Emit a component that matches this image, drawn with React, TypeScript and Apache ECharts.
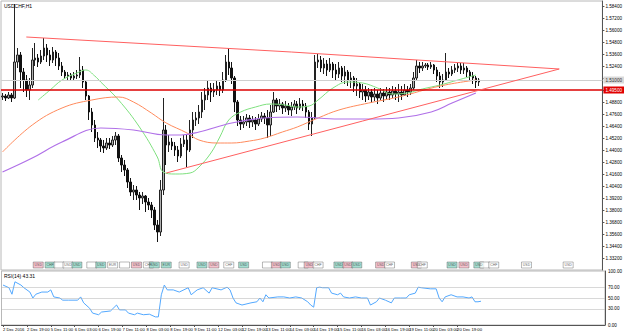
import React, { useEffect, useRef } from "react";
import * as echarts from "echarts";

const symbolTitle = "USDCHF,H1";
const rsiTitle = "RSI(14) 43.31";

const firstOpen = 1.493;
const closes = [
  1.494, 1.492, 1.495, 1.492, 1.528, 1.535, 1.518, 1.51, 1.5, 1.505,
  1.53, 1.532, 1.528, 1.534, 1.542, 1.535, 1.53, 1.538, 1.532, 1.524,
  1.518, 1.514, 1.515, 1.512, 1.514, 1.515, 1.52, 1.508, 1.494, 1.478,
  1.465, 1.452, 1.45, 1.444, 1.442, 1.447, 1.445, 1.45, 1.454, 1.432,
  1.425, 1.42, 1.408, 1.398, 1.4, 1.395, 1.392, 1.394, 1.388, 1.385,
  1.38, 1.365, 1.358, 1.4, 1.46, 1.445, 1.448, 1.444, 1.44, 1.434,
  1.446, 1.45, 1.44, 1.46, 1.47, 1.472, 1.478, 1.49, 1.495, 1.502,
  1.498, 1.5, 1.504, 1.5, 1.51, 1.528, 1.522, 1.512, 1.488, 1.47,
  1.466, 1.468, 1.472, 1.468, 1.47, 1.466, 1.471, 1.474, 1.472, 1.465,
  1.478, 1.49, 1.484, 1.486, 1.482, 1.484, 1.48, 1.483, 1.486, 1.482,
  1.486, 1.484, 1.478, 1.466, 1.472, 1.528, 1.53, 1.522, 1.526, 1.52,
  1.526, 1.52, 1.516, 1.522, 1.514, 1.518, 1.51, 1.512, 1.504, 1.506,
  1.498, 1.5, 1.494, 1.498, 1.493, 1.496, 1.492, 1.497, 1.494, 1.498,
  1.495, 1.499, 1.496, 1.498, 1.495, 1.5, 1.498, 1.502, 1.512, 1.524,
  1.522, 1.524, 1.525, 1.523, 1.525, 1.52, 1.514, 1.508, 1.51, 1.518,
  1.516, 1.52, 1.522, 1.524, 1.52, 1.522, 1.518, 1.514, 1.512, 1.508,
  1.51,
];
const highs = [
  1.497, 1.496, 1.498, 1.497, 1.586, 1.542, 1.538, 1.522, 1.515, 1.512,
  1.542, 1.547, 1.536, 1.54, 1.552, 1.546, 1.54, 1.543, 1.54, 1.537,
  1.528, 1.52, 1.518, 1.517, 1.518, 1.52, 1.533, 1.524, 1.51, 1.495,
  1.482, 1.47, 1.458, 1.452, 1.45, 1.452, 1.452, 1.454, 1.458, 1.456,
  1.435, 1.43, 1.422, 1.412, 1.405, 1.404, 1.398, 1.398, 1.395, 1.392,
  1.388, 1.383, 1.37, 1.41, 1.492, 1.465, 1.455, 1.452, 1.448, 1.444,
  1.452, 1.455, 1.456, 1.47, 1.478, 1.478, 1.485, 1.498, 1.502, 1.51,
  1.507, 1.507, 1.51, 1.508, 1.518, 1.535, 1.542, 1.528, 1.514, 1.49,
  1.474, 1.474, 1.476, 1.475, 1.474, 1.473, 1.476, 1.478, 1.477, 1.48,
  1.485, 1.498, 1.492, 1.491, 1.488, 1.489, 1.487, 1.488, 1.49, 1.489,
  1.492, 1.49, 1.487, 1.48, 1.478, 1.535, 1.536, 1.534, 1.532, 1.53,
  1.532, 1.528, 1.526, 1.528, 1.524, 1.524, 1.52, 1.518, 1.514, 1.512,
  1.508, 1.506, 1.504, 1.502, 1.501, 1.502, 1.5, 1.502, 1.501, 1.503,
  1.502, 1.504, 1.503, 1.506, 1.504, 1.506, 1.504, 1.506, 1.518, 1.53,
  1.528, 1.528, 1.527, 1.527, 1.528, 1.526, 1.523, 1.518, 1.516, 1.537,
  1.522, 1.524, 1.526, 1.527, 1.527, 1.527, 1.524, 1.52, 1.518, 1.514,
  1.512,
];
const lows = [
  1.49, 1.489, 1.491, 1.488, 1.491, 1.522, 1.502, 1.498, 1.493, 1.49,
  1.502, 1.524, 1.523, 1.526, 1.53, 1.528, 1.524, 1.527, 1.524, 1.52,
  1.514, 1.511, 1.51, 1.509, 1.51, 1.511, 1.512, 1.502, 1.49, 1.47,
  1.458, 1.448, 1.442, 1.438, 1.437, 1.44, 1.441, 1.443, 1.445, 1.428,
  1.418, 1.414, 1.402, 1.394, 1.39, 1.39, 1.38, 1.386, 1.378, 1.38,
  1.372, 1.36, 1.348, 1.354, 1.395, 1.425, 1.438, 1.44, 1.434, 1.428,
  1.432, 1.443, 1.423, 1.438, 1.452, 1.464, 1.466, 1.472, 1.48, 1.49,
  1.488, 1.493, 1.495, 1.494, 1.497, 1.508, 1.515, 1.506, 1.478, 1.464,
  1.46, 1.462, 1.464, 1.462, 1.463, 1.46, 1.464, 1.468, 1.466, 1.452,
  1.454, 1.477, 1.478, 1.48, 1.476, 1.478, 1.475, 1.474, 1.48, 1.476,
  1.48, 1.479, 1.472, 1.46, 1.454, 1.47, 1.522, 1.518, 1.516, 1.514,
  1.518, 1.512, 1.51, 1.512, 1.508, 1.506, 1.504, 1.502, 1.498, 1.494,
  1.492, 1.49, 1.488, 1.49, 1.487, 1.489, 1.486, 1.49, 1.488, 1.49,
  1.49, 1.492, 1.49, 1.488, 1.49, 1.494, 1.493, 1.495, 1.5, 1.51,
  1.517, 1.519, 1.522, 1.52, 1.521, 1.516, 1.508, 1.502, 1.503, 1.51,
  1.512, 1.514, 1.517, 1.518, 1.516, 1.516, 1.513, 1.51, 1.506, 1.502,
  1.504,
];

const slotCount = 202;
const labelEvery = 8;
const dateLabels = [
  "2 Dec 2016", "2 Dec 19:00", "5 Dec 11:00", "6 Dec 03:00", "6 Dec 19:00",
  "7 Dec 11:00", "8 Dec 03:00", "8 Dec 19:00", "9 Dec 11:00", "12 Dec 03:00",
  "12 Dec 19:00", "13 Dec 11:00", "14 Dec 03:00", "14 Dec 19:00", "15 Dec 11:00",
  "16 Dec 03:00", "16 Dec 19:00", "19 Dec 11:00", "20 Dec 03:00", "20 Dec 19:00",
  "21 Dec 11:00",
];

const priceMin = 1.32;
const priceMax = 1.589;
const priceStep = 0.012;

const greenMA = [
  [12, 1.49], [16, 1.5], [20, 1.51], [25, 1.517], [28, 1.52], [31, 1.514],
  [33, 1.508], [39, 1.49], [46, 1.463], [52, 1.433], [54, 1.418], [58, 1.416],
  [63, 1.417], [66, 1.423], [70, 1.437], [73, 1.453], [76, 1.47], [80, 1.478],
  [85, 1.483], [90, 1.486], [95, 1.485], [99, 1.483], [103, 1.484], [106, 1.49],
  [111, 1.502], [116, 1.508], [121, 1.507], [126, 1.502], [131, 1.496],
  [136, 1.497], [141, 1.501], [147, 1.505], [153, 1.51], [159, 1.515],
];
const orangeMA = [
  [0, 1.438], [10, 1.465], [20, 1.482], [30, 1.49], [39, 1.493], [44, 1.488],
  [50, 1.477], [55, 1.467], [62, 1.457], [66, 1.45], [72, 1.447], [77, 1.447],
  [83, 1.449], [88, 1.452], [94, 1.458], [99, 1.463], [106, 1.472], [113, 1.48],
  [123, 1.487], [133, 1.493], [147, 1.504], [159, 1.51],
];
const purpleMA = [
  [0, 1.418], [10, 1.432], [20, 1.448], [33, 1.462], [44, 1.46], [55, 1.455],
  [60, 1.455], [66, 1.458], [77, 1.467], [88, 1.472], [99, 1.473], [113, 1.471],
  [123, 1.471], [133, 1.472], [144, 1.478], [151, 1.487], [159, 1.497],
];

const upperTrend = [[8, 1.553], [97, 1.538], [187, 1.521]];
const lowerTrend = [[55, 1.417], [121, 1.469], [187, 1.521]];
const supportLevel = 1.495;

const rsiPoints = [
  [0, 74], [2, 69], [3, 57], [4, 80], [6, 74], [7, 69], [9, 61], [10, 50], [11, 57],
  [13, 61], [15, 61], [16, 65], [17, 52], [19, 50], [20, 46], [22, 46], [25, 46],
  [26, 52], [27, 41], [29, 31], [30, 22], [32, 19], [33, 24], [36, 26], [38, 37],
  [39, 28], [41, 28], [42, 22], [44, 19], [45, 22], [47, 19], [49, 20], [51, 15],
  [52, 15], [53, 56], [54, 74], [55, 65], [57, 65], [59, 61], [62, 69], [63, 56],
  [65, 65], [67, 69], [69, 59], [70, 69], [73, 65], [75, 70], [76, 65], [77, 50],
  [78, 41], [80, 37], [83, 41], [85, 43], [86, 50], [87, 43], [88, 56], [89, 50],
  [92, 52], [94, 52], [96, 50], [98, 52], [100, 50], [102, 43], [103, 37], [104, 33],
  [105, 69], [106, 70], [107, 69], [109, 69], [110, 59], [112, 56], [113, 59],
  [114, 52], [116, 50], [118, 52], [120, 50], [122, 50], [123, 37], [125, 43],
  [126, 50], [128, 46], [130, 41], [131, 50], [133, 50], [135, 50], [136, 56],
  [138, 59], [139, 70], [140, 69], [143, 67], [145, 67], [146, 50], [147, 43],
  [148, 52], [150, 56], [152, 52], [154, 52], [156, 50], [157, 52], [158, 43],
  [159, 43], [160, 44],
];
const rsiLevels = [30, 50, 70];
const rsiLabelValues = [0, 30, 50, 70, 100];

const eventSlots = [12, 16, 19, 22, 25, 30, 33, 37, 41, 45, 49, 51, 55, 61, 67, 71, 76, 81, 89, 92, 95, 101, 103, 106, 113, 116, 119, 127, 130, 139, 141, 151, 155, 160, 162, 165, 176, 190];
const eventKinds = [1, 2, 0, 0, 2, 0, 2, 0, 0, 1, 0, 2, 2, 0, 2, 1, 0, 2, 0, 1, 2, 0, 1, 0, 2, 1, 2, 1, 0, 1, 0, 2, 1, 2, 0, 0, 0, 0];
const eventTexts = ["USD", "CHF", "", "USD", "USD", "", "USD", "EUR", "", "USD", "CHF", "USD", "EUR", "USD", "USD", "USD", "CHF", "USD", "", "USD", "USD", "", "USD", "CHF", "USD", "USD", "USD", "USD", "CHF", "USD", "CHF", "USD", "USD", "USD", "", "CHF", "USD", "USD"];

const FONT = "Liberation Sans";

export default function App() {
  const ref = useRef<HTMLDivElement>(null);
  useEffect(() => {
    if (!ref.current) return;
    const chart = echarts.init(ref.current, undefined, { renderer: "svg" });

    const candles = closes.map((c, i) => [i === 0 ? firstOpen : closes[i - 1], c, lows[i], highs[i]]);
    const slots = Array.from({ length: slotCount }, (_, i) =>
      i % labelEvery === 0 && i / labelEvery < dateLabels.length ? dateLabels[i / labelEvery] : ""
    );
    const bid = closes[closes.length - 1];
    const kindFill = ["#ffffff", "#f2b3c0", "#8fd6c6"];
    const eventY = priceMin + 0.005;
    const nearMarked = (v: number) =>
      Math.abs(v - bid) < priceStep * 0.55 || Math.abs(v - supportLevel) < priceStep * 0.55;

    const option: any = {
      animation: false,
      backgroundColor: "#ffffff",
      textStyle: { fontFamily: FONT },
      grid: [
        { left: 1, top: 1, width: 604, height: 269, show: true, borderColor: "#b8b8b8", borderWidth: 1 },
        { left: 1, top: 271, width: 604, height: 54, show: true, borderColor: "#b8b8b8", borderWidth: 1 },
      ],
      xAxis: [
        {
          type: "category", gridIndex: 0, data: slots, boundaryGap: true,
          axisLabel: { show: false }, axisTick: { show: false }, axisLine: { show: false },
        },
        {
          type: "category", gridIndex: 1, data: slots, boundaryGap: true,
          axisLine: { show: true, lineStyle: { color: "#555", width: 1 } },
          axisTick: {
            show: true, alignWithLabel: true, length: 2,
            interval: (idx: number, v: string) => v !== "",
            lineStyle: { color: "#555" },
          },
          axisLabel: {
            interval: (idx: number, v: string) => v !== "",
            fontSize: 4.2, color: "#000", margin: 2, align: "left", fontFamily: FONT,
          },
        },
      ],
      yAxis: [
        {
          type: "value", gridIndex: 0, position: "right", min: priceMin, max: priceMax, interval: priceStep,
          scale: true,
          axisLine: { show: true, lineStyle: { color: "#555", width: 1 } },
          axisTick: { show: true, length: 2, lineStyle: { color: "#555" } },
          splitLine: { show: false },
          axisLabel: {
            fontSize: 4.6, color: "#000", margin: 3, fontFamily: FONT,
            showMinLabel: false, showMaxLabel: false,
            formatter: (v: number) => (nearMarked(v) ? "" : v.toFixed(5)),
          },
        },
        {
          type: "value", gridIndex: 1, position: "right", min: 0, max: 100, interval: 10,
          axisLine: { show: true, lineStyle: { color: "#555", width: 1 } },
          axisTick: { show: false },
          splitLine: { show: false },
          axisLabel: {
            fontSize: 4.6, color: "#000", margin: 3, fontFamily: FONT,
            formatter: (v: number) => (rsiLabelValues.includes(Math.round(v)) ? v.toFixed(2) : ""),
          },
        },
      ],
      graphic: [
        { type: "text", left: 4, top: 3, style: { text: symbolTitle, fontSize: 5, fill: "#000", fontFamily: FONT } },
        { type: "text", left: 4, top: 273, style: { text: rsiTitle, fontSize: 5, fill: "#000", fontFamily: FONT } },
      ],
      series: [
        {
          type: "candlestick", xAxisIndex: 0, yAxisIndex: 0, data: candles, barWidth: 2,
          itemStyle: { color: "#b0b0b0", color0: "#111", borderColor: "#222", borderColor0: "#111", borderWidth: 1 },
          markLine: {
            silent: true, symbol: ["none", "none"], animation: false,
            data: [
              {
                yAxis: bid,
                lineStyle: { color: "#cfcfcf", width: 1, type: "solid" },
                label: {
                  position: "end", distance: 1, formatter: () => bid.toFixed(5), fontSize: 4.6, color: "#333",
                  backgroundColor: "#d9d9d9", padding: [1, 2], fontFamily: FONT,
                },
              },
              {
                yAxis: supportLevel,
                lineStyle: { color: "#dd0000", width: 1.5, type: "solid" },
                label: {
                  position: "end", distance: 1, formatter: () => supportLevel.toFixed(5), fontSize: 4.6, color: "#fff",
                  backgroundColor: "#e00000", padding: [1, 2], fontFamily: FONT,
                },
              },
            ],
          },
          z: 3,
        },
        { type: "line", xAxisIndex: 0, yAxisIndex: 0, data: greenMA, smooth: 0.4, showSymbol: false, lineStyle: { color: "#7ee07e", width: 1 }, z: 4 },
        { type: "line", xAxisIndex: 0, yAxisIndex: 0, data: orangeMA, smooth: 0.4, showSymbol: false, lineStyle: { color: "#ff8a5c", width: 1 }, z: 4 },
        { type: "line", xAxisIndex: 0, yAxisIndex: 0, data: purpleMA, smooth: 0.4, showSymbol: false, lineStyle: { color: "#b070e8", width: 1.2 }, z: 4 },
        {
          type: "line", xAxisIndex: 0, yAxisIndex: 0, data: upperTrend, symbol: "rect", symbolSize: 3, showSymbol: true,
          lineStyle: { color: "#ff6060", width: 1 }, itemStyle: { color: "#a00000" }, z: 5,
        },
        {
          type: "line", xAxisIndex: 0, yAxisIndex: 0, data: lowerTrend, symbol: "rect", symbolSize: 3, showSymbol: true,
          lineStyle: { color: "#ff6060", width: 1 }, itemStyle: { color: "#a00000" }, z: 5,
        },
        {
          type: "scatter", xAxisIndex: 0, yAxisIndex: 0, symbol: "rect", symbolSize: [10, 6],
          data: eventSlots.map((s, i) => ({
            value: [s, eventY],
            itemStyle: { color: kindFill[eventKinds[i]], borderColor: "#555", borderWidth: 0.5 },
            label: { show: true, position: "inside", formatter: eventTexts[i], fontSize: 3.5, color: "#333", fontFamily: FONT },
          })),
          z: 6,
        },
        {
          type: "line", xAxisIndex: 1, yAxisIndex: 1, data: rsiPoints, showSymbol: false,
          lineStyle: { color: "#52a8ff", width: 1 },
          markLine: {
            silent: true, symbol: ["none", "none"],
            lineStyle: { color: "#b0b0b0", type: "dotted", width: 1 },
            label: { show: false },
            data: rsiLevels.map((v) => ({ yAxis: v })),
          },
        },
      ],
    };
    chart.setOption(option);
    return () => chart.dispose();
  }, []);
  return <div ref={ref} style={{ position: "fixed", left: 0, top: 0, width: 625, height: 333, background: "#fff" }} />;
}
